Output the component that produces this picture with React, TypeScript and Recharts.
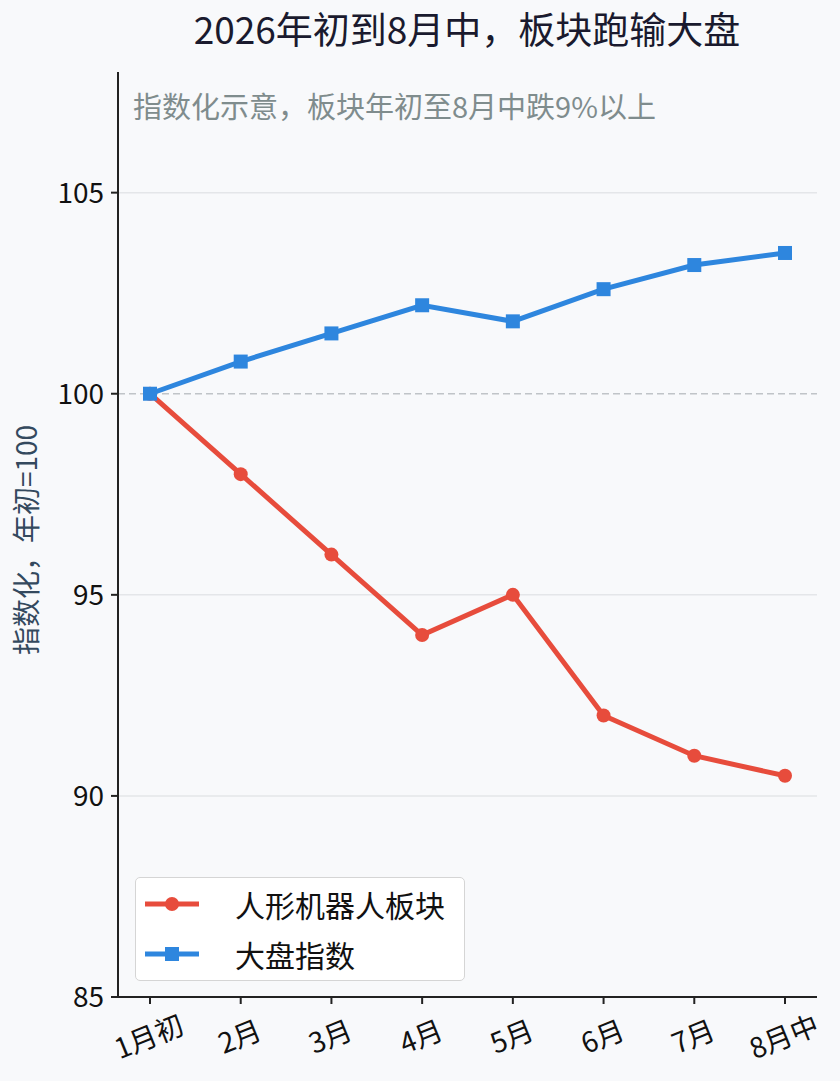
import React from 'react'
import { LineChart, Line, XAxis, YAxis, ReferenceLine } from 'recharts'

const months = ['1月初', '2月', '3月', '4月', '5月', '6月', '7月', '8月中']
const robotSector = [100, 98, 96, 94, 95, 92, 91, 90.5]
const marketIndex = [100, 100.8, 101.5, 102.2, 101.8, 102.6, 103.2, 103.5]
const yTicks = [85, 90, 95, 100, 105]
const gridValues = [90, 95, 105]

const RED = '#e74c3c'
const BLUE = '#2e86de'
const FONT = '"Noto Sans CJK SC", "Noto Sans", sans-serif'

const data = months.map((m, i) => ({
  month: m,
  robot: robotSector[i],
  market: marketIndex[i],
}))

const SquareDot = (props: any) => {
  const { cx, cy } = props
  if (cx == null || cy == null) return null
  return <rect x={cx - 7} y={cy - 7} width={14} height={14} fill={BLUE} />
}

const XTick = (props: any) => {
  const { x, y, payload } = props
  return (
    <g transform={`translate(${x},${y + 33}) rotate(-22)`}>
      <text
        textAnchor="middle"
        dominantBaseline="middle"
        fontSize={28}
        fill="#111"
        fontFamily={FONT}
      >
        {payload.value}
      </text>
    </g>
  )
}

const legendItems = [
  { name: '人形机器人板块', color: RED, square: false },
  { name: '大盘指数', color: BLUE, square: true },
]

const LegendBox = () => (
  <div
    style={{
      position: 'absolute',
      left: 135,
      top: 877,
      width: 330,
      height: 104,
      background: '#fff',
      border: '1.5px solid #d5d5d5',
      borderRadius: 5,
      boxSizing: 'border-box',
      fontFamily: FONT,
      fontSize: 30,
      color: '#111',
    }}
  >
    {legendItems.map((item, i) => (
      <div
        key={item.name}
        style={{
          position: 'absolute',
          left: 0,
          top: 6 + i * 50,
          height: 40,
          display: 'flex',
          alignItems: 'center',
        }}
      >
        <svg width={90} height={40}>
          <line x1={9} x2={63} y1={20} y2={20} stroke={item.color} strokeWidth={5} />
          {item.square ? (
            <rect x={29} y={13} width={14} height={14} fill={item.color} />
          ) : (
            <circle cx={36} cy={20} r={7} fill={item.color} />
          )}
        </svg>
        <span style={{ marginLeft: 9, lineHeight: '40px' }}>{item.name}</span>
      </div>
    ))}
  </div>
)

export default function App() {
  return (
    <div
      style={{
        position: 'absolute',
        left: 0,
        top: 0,
        width: 840,
        height: 1081,
        background: '#f8f9fb',
      }}
    >
      <LineChart
        width={840}
        height={1081}
        data={data}
        margin={{ top: 72, right: 23, left: 0, bottom: 0 }}
      >
        <text
          x={467}
          y={34}
          textAnchor="middle"
          dominantBaseline="middle"
          fontSize={37}
          fill="#1a1a2e"
          fontFamily={FONT}
        >
          2026年初到8月中，板块跑输大盘
        </text>
        <text
          x={133}
          y={110}
          dominantBaseline="middle"
          fontSize={29}
          fill="#7f8c8d"
          fontFamily={FONT}
        >
          指数化示意，板块年初至8月中跌9%以上
        </text>
        <text
          x={29}
          y={540}
          textAnchor="middle"
          dominantBaseline="middle"
          fontSize={28}
          fill="#34495e"
          fontFamily={FONT}
          transform="rotate(-90 29 540)"
        >
          指数化，年初=100
        </text>
        {gridValues.map((v) => (
          <ReferenceLine key={v} y={v} stroke="#e4e6e9" strokeWidth={1.5} />
        ))}
        <ReferenceLine y={100} stroke="#c0c4c8" strokeWidth={1.5} strokeDasharray="7 4" />
        <XAxis
          dataKey="month"
          height={84}
          padding={{ left: 32, right: 32 }}
          axisLine={{ stroke: '#222', strokeWidth: 2 }}
          tickLine={{ stroke: '#222', strokeWidth: 2 }}
          tickSize={7}
          tick={<XTick />}
          interval={0}
        />
        <YAxis
          width={118}
          domain={[85, 108]}
          ticks={yTicks}
          allowDataOverflow
          axisLine={{ stroke: '#222', strokeWidth: 2 }}
          tickLine={{ stroke: '#222', strokeWidth: 2 }}
          tickSize={7}
          tickMargin={7}
          tick={{ fontSize: 28, fill: '#111', fontFamily: FONT }}
        />
        <Line
          dataKey="robot"
          name="人形机器人板块"
          stroke={RED}
          strokeWidth={5}
          dot={{ r: 7, fill: RED, stroke: 'none' }}
          activeDot={false}
          isAnimationActive={false}
        />
        <Line
          dataKey="market"
          name="大盘指数"
          stroke={BLUE}
          strokeWidth={5}
          dot={<SquareDot />}
          activeDot={false}
          isAnimationActive={false}
        />
      </LineChart>
      <LegendBox />
    </div>
  )
}
